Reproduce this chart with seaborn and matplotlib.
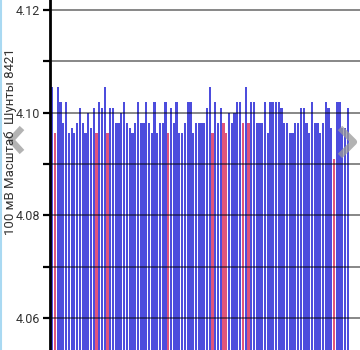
import numpy as np
import pandas as pd
import matplotlib
matplotlib.use("Agg")
import matplotlib.pyplot as plt
from matplotlib.lines import Line2D
from matplotlib.ticker import MultipleLocator, FormatStrFormatter
import seaborn as sns

# Cell voltages (V), one bar per cell
voltages = [
    4.105, 4.096, 4.105, 4.102, 4.098, 4.102, 4.096, 4.097, 4.096, 4.098,
    4.101, 4.098, 4.096, 4.100, 4.097, 4.101, 4.096, 4.102, 4.101, 4.105,
    4.096, 4.101, 4.101, 4.098, 4.098, 4.100, 4.102, 4.098, 4.097, 4.096,
    4.098, 4.102, 4.098, 4.098, 4.102, 4.098, 4.096, 4.102, 4.096, 4.098,
    4.098, 4.102, 4.096, 4.101, 4.098, 4.102, 4.096, 4.096, 4.098, 4.102,
    4.102, 4.096, 4.098, 4.098, 4.098, 4.098, 4.101, 4.105, 4.096, 4.102,
    4.098, 4.101, 4.098, 4.096, 4.100, 4.098, 4.100, 4.102, 4.102, 4.098,
    4.105, 4.098, 4.102, 4.102, 4.098, 4.098, 4.098, 4.102, 4.096, 4.102,
    4.102, 4.102, 4.102, 4.101, 4.098, 4.098, 4.096, 4.096, 4.098, 4.098,
    4.101, 4.101, 4.098, 4.096, 4.102, 4.098, 4.098, 4.096, 4.098, 4.102,
    4.101, 4.097, 4.091, 4.102, 4.102, 4.097, 4.097, 4.101,
]
# Cells with an active shunt (drawn in red)
shunted = [1, 16, 20, 42, 58, 62, 63, 69, 71, 102]

y_label = "100 мВ Масштаб  Шунты 8421"

n = len(voltages)
df = pd.DataFrame({
    "cell": np.arange(n),
    "voltage": voltages,
    "state": ["shunt" if i in shunted else "normal" for i in range(n)],
})

sns.set_style("white")
plt.rcParams["font.family"] = ["Roboto", "DejaVu Sans"]

fig = plt.figure(figsize=(3.6, 3.5), dpi=100)
ax = fig.add_axes([50 / 360, 0.0, 310 / 360, 1.0])

sns.barplot(
    data=df, x="cell", y="voltage", hue="state",
    palette={"normal": "#4d4ddd", "shunt": "#e0557c"},
    dodge=False, width=0.8, legend=False, saturation=1,
    linewidth=0, ax=ax, zorder=1,
)

ax.set_ylim(4.0538, 4.12195)
ax.set_xlim(-0.83, 111.4)

ax.yaxis.set_major_locator(MultipleLocator(0.02))
ax.yaxis.set_minor_locator(MultipleLocator(0.01))
ax.yaxis.set_major_formatter(FormatStrFormatter("%.2f"))
ax.tick_params(axis="y", which="both", left=True, length=5, width=1.6,
               color="black", pad=2, labelsize=9, labelcolor="#333333")
ax.set_xticks([])
ax.set_xlabel("")
ax.set_ylabel("")

ax.grid(True, axis="y", which="both", color="black", alpha=0.55,
        linewidth=1.2, zorder=3)
ax.set_axisbelow(False)

for side in ("top", "right", "bottom"):
    ax.spines[side].set_visible(False)
ax.spines["left"].set_color("black")
ax.spines["left"].set_linewidth(2)
ax.spines["left"].set_zorder(4)

fig.text(11 / 360, 1 - 142 / 350, y_label, rotation=90, ha="center",
         va="center", fontsize=9.5, color="#333333")

# Page navigation chevrons and screen edge
chev = dict(color="#9a9a9a", alpha=0.75, linewidth=4.5,
            solid_capstyle="butt", transform=fig.transFigure)
fig.add_artist(Line2D([22 / 360, 11 / 360, 22 / 360],
                      [1 - 128 / 350, 1 - 140 / 350, 1 - 152 / 350], **chev))
fig.add_artist(Line2D([340 / 360, 354 / 360, 340 / 360],
                      [1 - 128 / 350, 1 - 142 / 350, 1 - 156 / 350], **chev))
fig.add_artist(Line2D([1 / 360, 1 / 360], [0, 1], color="#a9d9f2",
                      linewidth=1.5, transform=fig.transFigure))

fig.savefig("out.png", dpi=100)
